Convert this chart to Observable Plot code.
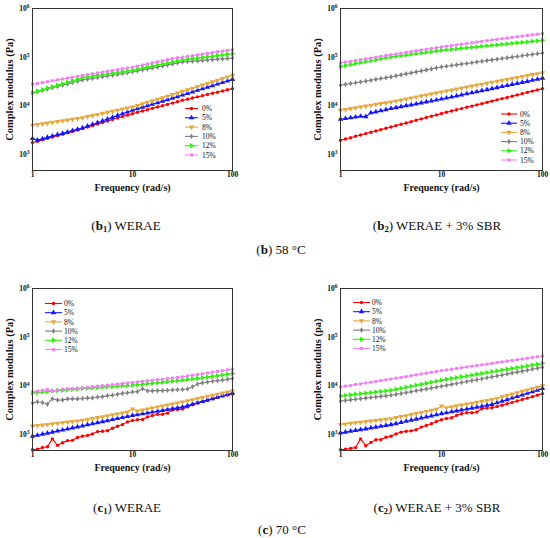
<!DOCTYPE html>
<html><head><meta charset="utf-8">
<script src="https://cdn.jsdelivr.net/npm/d3@7"></script>
<script src="https://cdn.jsdelivr.net/npm/@observablehq/plot@0.6"></script>
<style>
body{margin:0;background:#fff;}
#root{position:relative;width:550px;height:538px;overflow:hidden;font-family:"Liberation Serif",serif;background:#fff;}
.panel{position:absolute;}
.cap{position:absolute;transform:translate(-50%,-50%);font-size:13px;white-space:nowrap;color:#111;font-family:"Liberation Serif",serif;}
.cap sub{font-size:8.5px;vertical-align:-2px;font-weight:bold;}
#legend{position:absolute;left:0;top:0;pointer-events:none;}
</style></head><body><div id="root"></div>
<script>
const freq = [1,1.12,1.26,1.41,1.58,1.78,2,2.24,2.51,2.82,3.16,3.55,3.98,4.47,5.01,5.62,6.31,7.08,7.94,8.91,10,11.2,12.6,14.1,15.8,17.8,20,22.4,25.1,28.2,31.6,35.5,39.8,44.7,50.1,56.2,63.1,70.8,79.4,89.1,100];
const seriesNames = ["0%","5%","8%","10%","12%","15%"];
const xTicks = [1,10,100];
const yTicks = [1e3,1e4,1e5,1e6];

// (b1) WERAE, 58 °C
const b1_0 = [1760,1880,2010,2150,2300,2460,2620,2800,2990,3200,3420,3670,3940,4230,4540,4870,5230,5610,6020,6450,6900,7350,7830,8340,8880,9460,10100,10700,11400,12200,13000,13700,14500,15300,16200,17100,18100,19100,20200,21400,22600];
const b1_5 = [2130,1980,2100,2250,2400,2560,2720,2900,3100,3300,3520,3830,4160,4520,4920,5350,5810,6320,6870,7470,8100,8710,9360,10100,10800,11600,12500,13400,14400,15500,16700,18000,19400,20900,22500,24200,26100,28100,30200,32500,35000];
const b1_8 = [4000,4130,4280,4430,4590,4760,4930,5110,5300,5500,5700,6000,6310,6640,6990,7360,7740,8140,8570,9020,9500,10200,11000,11800,12700,13700,14700,15800,17000,18300,19700,21300,23000,24800,26700,28800,31100,33500,36200,39200,42500];
const b1_10 = [18500,19700,20900,22200,23600,25100,26700,28300,30100,32000,34000,35300,36700,38100,39600,41100,42700,44300,46100,47900,50000,52400,54900,57500,60300,63200,66200,69400,72700,76200,80000,81400,82900,84400,85900,87400,89000,90600,92200,94100,96000];
const b1_12 = [18500,19900,21400,23000,24600,26500,28500,30600,32800,35300,38000,39400,40800,42200,43700,45300,46900,48600,50400,52100,54000,56700,59500,62500,65600,68900,72400,76000,79800,83800,88000,90600,93400,96200,99100,102000,105100,108300,111500,114900,118000];
const b1_15 = [27700,28900,30100,31400,32700,34100,35600,37100,38700,40300,42000,43700,45500,47300,49200,51200,53300,55400,57600,59800,62000,65300,68800,72400,76200,80200,84400,88800,93400,97200,100000,103600,107400,111300,115400,119600,123900,128400,133100,138000,143000];

// (b2) WERAE + 3% SBR, 58 °C
const b2_0 = [1960,2090,2220,2370,2520,2690,2860,3050,3250,3460,3690,3930,4190,4460,4750,5060,5390,5750,6120,6520,6950,7370,7820,8290,8790,9330,9890,10500,11100,11800,12500,13300,14100,14900,15800,16800,17800,18900,20100,21300,22600];
const b2_5 = [5300,5500,5700,5900,6100,6000,7200,7520,7910,8330,8800,9200,9630,10100,10500,11000,11500,12100,12600,13200,13800,14500,15200,16000,16800,17700,18600,19500,20500,21500,22600,23700,25000,26200,27500,28900,30400,31900,33500,35200,37000];
const b2_8 = [8100,8420,8760,9110,9480,9860,10300,10700,11100,11500,12000,12600,13200,13800,14500,15200,16000,16700,17600,18400,19300,20200,21100,22100,23200,24300,25400,26600,27800,29100,30500,31900,33400,34900,36500,38200,40000,41900,43800,45800,48000];
const b2_10 = [26500,27600,28700,29800,31000,32300,33600,35000,36400,37900,39400,41300,43300,45400,47600,49900,52300,54800,57400,60200,63000,65100,67300,69600,72000,74400,77000,79600,82300,85100,88000,90900,93900,97000,100200,103500,106900,110500,114100,117900,122000];
const b2_12 = [64500,67500,70500,73800,77200,80700,84400,88300,92300,96600,101000,104200,107500,110900,114400,118000,121700,125600,129600,133700,138000,141300,144700,148200,151800,155400,159100,162900,166800,170800,175000,179200,183500,187900,192400,197000,201700,206500,211500,216600,222000];
const b2_15 = [76000,79000,82100,85400,88700,92200,95900,99700,103600,107700,112000,116200,120600,125100,129800,134700,139800,145000,150500,156100,162000,167400,173000,178800,184800,191000,197400,204000,210800,217800,225000,232000,239200,246600,254200,262100,270200,278600,287200,296100,305000];

// (c1) WERAE, 70 °C
const c1_0 = [490,500,540,560,815,600,680,750,760,870,925,960,1030,1150,1170,1200,1350,1480,1600,1820,1950,2020,2030,2300,2450,2600,2620,2750,3200,3250,3350,3700,4100,4450,4750,5050,5450,5850,6200,6500,6800];
const c1_5 = [920,965,1015,1065,1120,1180,1240,1300,1370,1440,1510,1590,1670,1750,1840,1930,2030,2130,2240,2350,2470,2570,2680,2780,2900,3010,3140,3260,3400,3530,3680,3930,4200,4490,4800,5130,5480,5860,6260,6700,7160];
const c1_8 = [1490,1530,1570,1610,1660,1700,1750,1800,1850,1900,1950,2040,2130,2220,2320,2430,2540,2650,2770,2900,3350,3050,3200,3350,3510,3680,3860,4050,4240,4450,4660,4910,5180,5460,5750,6070,6390,6740,7110,7490,7900];
const c1_10 = [4450,4700,4550,4200,5450,5100,5150,5400,5450,5400,5500,5600,5650,5900,6000,6300,6400,6700,7000,7200,7500,7600,8700,7900,7900,8000,8000,8100,8200,8300,8400,8600,9600,10900,11500,12000,12400,12800,13200,13600,14100];
const c1_12 = [7160,7300,7450,7600,7900,8000,8100,8300,8450,8600,8800,8950,9100,9250,9400,9550,9700,9850,10000,10150,10300,10550,10800,11050,11350,11600,11900,12200,12500,12800,13100,13500,13900,14300,14700,15200,15700,16200,16700,17300,18000];
const c1_15 = [7500,7800,8100,8400,7700,8200,8500,8700,8800,8950,9100,9330,9570,9810,10060,10310,10570,10840,11120,11400,11700,12000,12350,12700,13000,13400,13700,14100,14500,14900,15300,15900,16500,17100,17700,18400,19100,19800,20500,21300,22100];

// (c2) WERAE + 3% SBR, 70 °C
const c2_0 = [490,500,520,540,815,590,690,780,780,880,925,1030,1120,1170,1190,1250,1420,1540,1660,1860,2010,2140,2210,2470,2680,2810,2810,2900,3390,3500,3560,3750,4000,4280,4580,4900,5250,5600,6000,6450,6940];
const c2_5 = [1080,1120,1170,1220,1260,1310,1370,1420,1480,1540,1600,1680,1770,1870,1970,2070,2180,2300,2420,2550,2680,2800,2930,3060,3200,3340,3490,3650,3810,3990,4170,4490,4840,5220,5620,6060,6530,7030,7580,8170,8800];
const c2_8 = [1610,1650,1700,1750,1790,1840,1890,1940,2000,2050,2110,2220,2330,2440,2570,2700,2830,2980,3130,3290,3850,3550,3700,3870,4040,4210,4400,4590,4790,5000,5220,5570,5940,6340,6770,7220,7700,8220,8770,9360,10000];
const c2_10 = [4890,5020,5160,5300,5450,5600,5750,5910,6070,6230,6400,6680,6970,7270,7590,7920,8260,8620,9000,9390,9800,10250,10720,11210,11720,12250,12810,13400,14010,14650,15300,16000,16740,17510,18320,19160,20040,20960,21930,22940,24000];
const c2_12 = [6200,6370,6540,6720,6900,7090,7280,7480,7680,7890,8100,8500,8920,9360,9820,10300,10810,11340,11900,12490,13100,13630,14190,14760,15360,15990,16640,17310,18020,18750,19500,20290,21110,21970,22860,23780,24750,25750,26790,27880,29000];
const c2_15 = [9500,9860,10240,10630,11030,11450,11890,12340,12810,13300,13800,14360,14940,15540,16170,16820,17500,18210,18940,19710,20500,21220,21970,22740,23540,24370,25230,26120,27040,27990,29000,30020,31080,32170,33310,34480,35690,36950,38250,39600,41000];

const colors = ["#ff0000","#1515ff","#e6a83c","#7f7f7f","#33ee11","#ee82ee"];
const sqrt3 = Math.sqrt(3);
const triDown = {draw(c, size){ const y = -Math.sqrt(size/(sqrt3*3)); c.moveTo(0,-2*y); c.lineTo(-sqrt3*y, y); c.lineTo(sqrt3*y, y); c.closePath(); }};
const triRight = {draw(c, size){ const y = -Math.sqrt(size/(sqrt3*3)); c.moveTo(-2*y,0); c.lineTo(y,-sqrt3*y); c.lineTo(y, sqrt3*y); c.closePath(); }};
const symbols = [d3.symbolCircle, d3.symbolTriangle, triDown, d3.symbolDiamond, triRight, d3.symbolSquare];
const supFmt = d => "10^" + Math.round(Math.log10(d));

const panels = [
  {left:0, top:0, ml:32, mr:43, ylabel:"Complex modulus (Pa)", data:[b1_0,b1_5,b1_8,b1_10,b1_12,b1_15], leg:{x0:185,x1:198,tx:202,y0:108.5,dy:9.3}},
  {left:275, top:0, ml:65, mr:8, ylabel:"Complex modulus (Pa)", data:[b2_0,b2_5,b2_8,b2_10,b2_12,b2_15], leg:{x0:501,x1:517,tx:520,y0:114,dy:9.2}},
  {left:0, top:280, ml:32, mr:43, ylabel:"Complex modulus (Pa)", data:[c1_0,c1_5,c1_8,c1_10,c1_12,c1_15], leg:{x0:45,x1:62,tx:64,y0:303.5,dy:9.2}},
  {left:275, top:280, ml:65, mr:8, ylabel:"Complex modulus (pa)", data:[c2_0,c2_5,c2_8,c2_10,c2_12,c2_15], leg:{x0:353,x1:370,tx:372,y0:302.5,dy:9.2}}
];

const root = document.getElementById("root");

for (const p of panels) {
  const seriesMarks = [];
  p.data.forEach((vals, k) => {
    const rows = freq.map((f, i) => ({f, v: vals[i]}));
    seriesMarks.push(Plot.line(rows, {x:"f", y:"v", stroke: colors[k], strokeWidth: 1.1}));
    seriesMarks.push(Plot.dot(rows, {x:"f", y:"v", fill: colors[k], symbol: symbols[k], r: (k===1||k===2||k===4) ? 2.0 : 1.7, stroke: "none"}));
  });
  const chart = Plot.plot({
    width: 275, height: 195,
    marginLeft: p.ml, marginRight: p.mr, marginTop: 8, marginBottom: 25,
    x: {type: "log", domain: [1, 100]},
    y: {type: "log", domain: [470, 1e6]},
    style: {fontFamily: "Liberation Serif", fontWeight: "bold", fontSize: "7.5px", background: "transparent", color: "#111"},
    marks: [
      Plot.axisX({ticks: xTicks, tickFormat: d => String(d), tickSize: 0, tickPadding: 1.5, label: null}),
      Plot.axisY({ticks: yTicks, tickFormat: supFmt, tickSize: 0, tickPadding: 3, label: null}),
      ...seriesMarks,
      Plot.frame({stroke: "#333", strokeWidth: 1}),
      Plot.text([p.ylabel], {text: d => d, frameAnchor: "left", dx: -23, rotate: -90, textAnchor: "middle", lineAnchor: "middle", fontSize: 10.5, fontWeight: "bold", fill: "#111"}),
      Plot.text(["Frequency (rad/s)"], {text: d => d, frameAnchor: "bottom", dy: 17.5, textAnchor: "middle", lineAnchor: "middle", fontSize: 10, fontWeight: "bold", fill: "#111"})
    ]
  });
  // render exponents of y tick labels as real superscripts
  d3.select(chart).selectAll("text").each(function() {
    const t = this.textContent;
    const m = /^10\^(\d)$/.exec(t);
    if (m) {
      const sel = d3.select(this);
      sel.text("10");
      sel.append("tspan").attr("dy", "-0.45em").attr("font-size", "5.5px").text(m[1]);
    }
  });
  chart.classList.add("panel");
  chart.style.left = p.left + "px";
  chart.style.top = p.top + "px";
  root.appendChild(chart);
}

// legends
const svg = d3.select(root).append("svg").attr("id","legend").attr("width",550).attr("height",538);
for (const p of panels) {
  const L = p.leg;
  seriesNames.forEach((name, k) => {
    const y = L.y0 + k * L.dy;
    const g = svg.append("g");
    g.append("line").attr("x1", L.x0).attr("x2", L.x1).attr("y1", y).attr("y2", y).attr("stroke", colors[k]).attr("stroke-width", 1.1);
    const r = (k===1||k===2||k===4) ? 2.0 : 1.7;
    g.append("path").attr("transform", `translate(${(L.x0+L.x1)/2},${y})`).attr("d", d3.symbol().type(symbols[k]).size(r*r*Math.PI)()).attr("fill", colors[k]);
    g.append("text").attr("x", L.tx).attr("y", y).attr("dy", "0.35em").attr("font-family", "Liberation Serif").attr("font-size", 7.5).attr("fill", "#111").text(name);
  });
}

// captions
const caps = [
  {x:126, y:226, html:"(<b>b</b><sub>1</sub>) WERAE"},
  {x:437, y:226, html:"(<b>b</b><sub>2</sub>) WERAE + 3% SBR"},
  {x:281, y:250, html:"(<b>b</b>) 58 °C"},
  {x:127, y:508, html:"(<b>c</b><sub>1</sub>) WERAE"},
  {x:437, y:508, html:"(<b>c</b><sub>2</sub>) WERAE + 3% SBR"},
  {x:282, y:530, html:"(<b>c</b>) 70 °C"}
];
for (const c of caps) {
  const d = document.createElement("div");
  d.className = "cap";
  d.style.left = c.x + "px";
  d.style.top = c.y + "px";
  d.innerHTML = c.html;
  root.appendChild(d);
}
</script>
</body></html>
